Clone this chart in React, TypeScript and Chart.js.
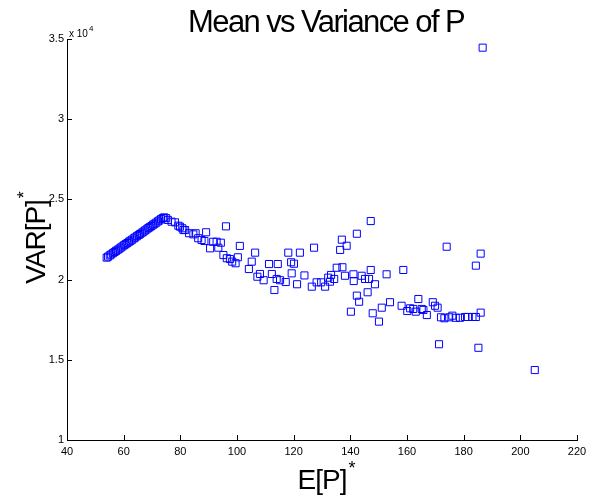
import React, { useEffect, useRef } from 'react';
import { Chart, registerables } from 'chart.js';

Chart.register(...registerables);

const TITLE = 'Mean vs Variance of P';
const X_LABEL = 'E[P]';
const Y_LABEL = 'VAR[P]';
const EXPONENT = '4';

const xTickValues = [40, 60, 80, 100, 120, 140, 160, 180, 200, 220];
const yTickValues = [10000, 15000, 20000, 25000, 30000, 35000];

// E[P]* (mean)
const meanValues = [
  54.0, 54.5, 55.1, 55.6, 56.2, 56.8, 57.3, 57.9, 58.5, 59.0, 59.6, 60.2, 60.7,
  61.3, 61.9, 62.4, 63.0, 63.6, 64.1, 64.7, 65.3, 65.8, 66.4, 67.0, 67.5, 68.1,
  68.7, 69.2, 69.8, 70.4, 70.9, 71.5, 72.1, 72.6, 73.2, 73.8, 74.3, 75.0, 75.6,
  76.9, 78.1, 79.3, 79.9, 80.7, 81.1, 81.7, 83.1, 84.6, 85.4, 86.3, 87.5, 88.5,
  89.1, 90.5, 91.6, 92.8, 94.3, 93.4, 96.1, 95.2, 96.4, 97.5, 98.3, 99.5, 100.3,
  101.0, 104.2, 105.2, 106.4, 107.2, 108.1, 109.4, 111.3, 112.3, 113.2, 114.4,
  114.0, 115.2, 117.2, 118.1, 119.1, 120.1, 119.3, 121.2, 122.2, 123.8, 127.2,
  126.4, 128.1, 129.7, 131.1, 132.2, 133.2, 134.3, 132.8, 135.2, 136.4, 137.0,
  137.2, 138.1, 138.7, 141.1, 141.2, 142.3, 142.3, 143.1, 140.2, 144.0, 145.2,
  146.6, 147.2, 147.2, 146.1, 148.7, 147.9, 150.1, 151.1, 152.8, 154.0, 158.1,
  158.7, 160.1, 161.1, 162.2, 163.1, 164.0, 165.2, 165.8, 167.0, 169.1, 169.9,
  170.8, 171.3, 172.0, 173.2, 174.0, 174.9, 176.0, 177.2, 178.7, 180.5, 181.5,
  183.1, 184.3, 184.3, 185.2, 186.0, 186.0, 186.7, 205.1,
];

// VAR[P]* (variance)
const varianceValues = [
  21370, 21430, 21510, 21570, 21650, 21720, 21790, 21860, 21930, 22000, 22070,
  22150, 22210, 22280, 22360, 22420, 22490, 22570, 22630, 22710, 22780, 22840,
  22920, 22990, 23060, 23130, 23210, 23270, 23340, 23420, 23480, 23550, 23630,
  23690, 23770, 23840, 23880, 23830, 23720,
  23610, 23570, 23360, 23300, 23200, 23090, 23090, 22890, 22820, 22890, 22580,
  22470, 22410, 22950, 21950, 22360, 22360, 22300, 21990, 23320, 21530, 21330,
  21280, 21120, 21020, 21390, 22100, 20660, 21120, 21680, 20180, 20350, 19960,
  20970, 20350, 19350, 20970, 20040, 19960, 19850, 21680, 21080, 20990, 20390,
  19710, 21680, 20260, 21990, 19560, 19830, 19830, 19560, 20120, 20290, 20040,
  19870, 20740, 21850, 22490, 20770, 20240, 22110, 20330, 19910, 22860, 19000,
  18620, 18000, 20240, 20040, 20040, 20600, 23650, 19210, 19710, 17900, 17380,
  18250, 20330, 18590, 18370, 20600, 18040, 18210, 18170, 18000, 18790, 18170,
  18110, 17790, 18590, 18370, 18250, 15970, 17650, 17590, 22050, 17650, 17750,
  17620, 17620, 17670, 17670, 17670, 17670, 20870, 15750, 21620, 17940, 34460,
  14360,
];

const FONT = '"Liberation Sans", Arial, Helvetica, sans-serif';

const decorPlugin = {
  id: 'decor',
  afterDraw(chart: any) {
    const ctx: CanvasRenderingContext2D = chart.ctx;
    const { left, bottom } = chart.chartArea;
    const xs = chart.scales.x;
    const ys = chart.scales.y;
    ctx.save();
    // inward tick marks
    ctx.strokeStyle = '#000';
    ctx.lineWidth = 1;
    ctx.beginPath();
    xs.ticks.forEach((t: any) => {
      const px = Math.round(xs.getPixelForValue(t.value)) + 0.5;
      ctx.moveTo(px, bottom);
      ctx.lineTo(px, bottom - 5);
    });
    ys.ticks.forEach((t: any) => {
      const py = Math.round(ys.getPixelForValue(t.value)) + 0.5;
      ctx.moveTo(left, py);
      ctx.lineTo(left + 5, py);
    });
    ctx.stroke();

    ctx.fillStyle = '#000';
    // title
    ctx.font = `31px ${FONT}`;
    (ctx as any).letterSpacing = '-1.6px';
    ctx.textAlign = 'center';
    ctx.textBaseline = 'alphabetic';
    ctx.fillText(TITLE, 326, 32);
    (ctx as any).letterSpacing = '0px';

    // exponent
    ctx.textAlign = 'left';
    ctx.font = `10px ${FONT}`;
    ctx.fillText('x 10', left + 2, 37);
    const w10 = ctx.measureText('x 10').width;
    ctx.font = `8px ${FONT}`;
    ctx.fillText(EXPONENT, left + 2 + w10 + 1, 31);

    // x label
    ctx.font = `28px ${FONT}`;
    (ctx as any).letterSpacing = '-1px';
    ctx.textAlign = 'center';
    ctx.fillText(X_LABEL, 322, 489);
    const wx = ctx.measureText(X_LABEL).width;
    (ctx as any).letterSpacing = '0px';
    ctx.font = `18px ${FONT}`;
    ctx.textAlign = 'left';
    ctx.fillText('*', 322 + wx / 2 + 2, 474);

    // y label
    ctx.translate(35, 242);
    ctx.rotate(-Math.PI / 2);
    ctx.font = `28px ${FONT}`;
    (ctx as any).letterSpacing = '-1px';
    ctx.textAlign = 'center';
    ctx.fillText(Y_LABEL, 0, 10);
    const wy = ctx.measureText(Y_LABEL).width;
    (ctx as any).letterSpacing = '0px';
    ctx.font = `18px ${FONT}`;
    ctx.textAlign = 'left';
    ctx.fillText('*', wy / 2 + 2, -5);
    ctx.restore();
  },
};

export default function App() {
  const ref = useRef<HTMLCanvasElement | null>(null);
  useEffect(() => {
    document.body.style.margin = '0';
    const canvas = ref.current;
    if (!canvas) return;
    const points = meanValues.map((x, i) => ({ x, y: varianceValues[i] }));
    const chart = new Chart(canvas, {
      type: 'scatter',
      data: {
        datasets: [
          {
            label: 'P',
            data: points,
            pointStyle: 'rect',
            radius: 5,
            hoverRadius: 5,
            borderColor: '#0000ff',
            backgroundColor: 'rgba(0,0,0,0)',
            borderWidth: 1,
          },
        ],
      },
      options: {
        responsive: false,
        animation: false,
        devicePixelRatio: 1,
        layout: { padding: { top: 39, right: 20, left: 0, bottom: 0 } },
        plugins: {
          legend: { display: false },
          title: { display: false },
          tooltip: { enabled: false },
        },
        scales: {
          x: {
            type: 'linear',
            min: 40,
            max: 220,
            afterBuildTicks: (s: any) => {
              s.ticks = xTickValues.map((v) => ({ value: v }));
            },
            afterFit: (s: any) => {
              s.height = 55;
            },
            grid: { display: false, drawTicks: false },
            border: { display: true, color: '#000', width: 1 },
            ticks: {
              color: '#000',
              padding: 5,
              maxRotation: 0,
              autoSkip: false,
              font: { family: FONT, size: 11 },
            },
          },
          y: {
            type: 'linear',
            min: 10000,
            max: 35000,
            afterBuildTicks: (s: any) => {
              s.ticks = yTickValues.map((v) => ({ value: v }));
            },
            afterFit: (s: any) => {
              s.width = 67;
            },
            grid: { display: false, drawTicks: false },
            border: { display: true, color: '#000', width: 1 },
            ticks: {
              color: '#000',
              padding: 3,
              autoSkip: false,
              font: { family: FONT, size: 11 },
              callback: (v: any) => String(Number(v) / 10000),
            },
          },
        },
      },
      plugins: [decorPlugin],
    });
    return () => chart.destroy();
  }, []);
  return (
    <div style={{ position: 'relative', width: 597, height: 495 }}>
      <canvas ref={ref} width={597} height={495} style={{ display: 'block' }} />
    </div>
  );
}
